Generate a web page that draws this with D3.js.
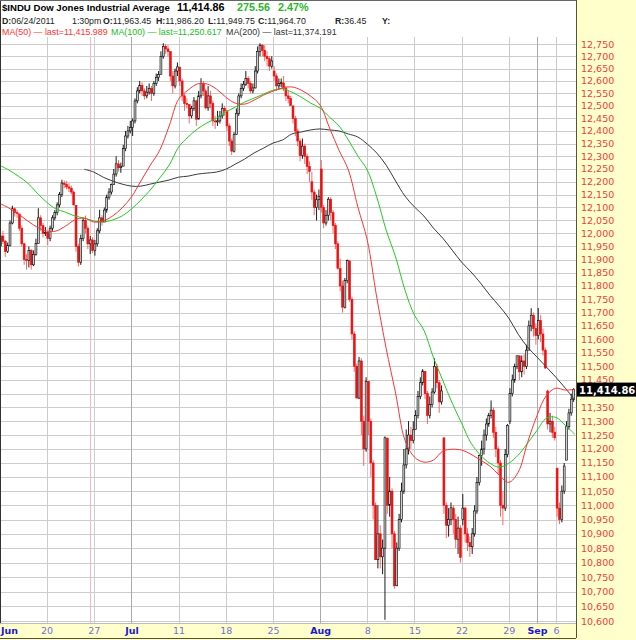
<!DOCTYPE html>
<html><head><meta charset="utf-8">
<script src="https://cdn.jsdelivr.net/npm/d3@7"></script>
<style>body{margin:0;background:#fff}svg{display:block}</style>
</head><body><svg id="c" width="636" height="640"></svg>
<script>
// ---------- DATA ----------
const tradingDays = ["06-13","06-14","06-15","06-16","06-17","06-20","06-21","06-22","06-23","06-24","06-27","06-28","06-29","06-30",
"07-01","07-05","07-06","07-07","07-08","07-11","07-12","07-13","07-14","07-15","07-18","07-19","07-20","07-21","07-22","07-25","07-26","07-27","07-28","07-29",
"08-01","08-02","08-03","08-04","08-05","08-08","08-09","08-10","08-11","08-12","08-15","08-16","08-17","08-18","08-19","08-22","08-23","08-24","08-25","08-26","08-29","08-30","08-31",
"09-01","09-02","09-06","09-07"];
const dayOpen = [11952,11953,12075,11897,11962,12004,12080,12190,12108,12050,11935,12044,12189,12261,12414,12583,12570,12627,12719,12656,
12505,12447,12492,12437,12480,12386,12587,12572,12724,12640,12592,12500,12303,12200,12250,12132,11866,11895,11384,11445,
10810,11239,10720,11143,11270,11482,11406,11240,10990,10950,10855,11177,11321,11150,11300,11539,11560,11614,11410,11130,11160];
const barClose = [
[11990,11970,11930,11953],[12040,12095,12080,12076],[12020,11960,11900,11897],[11935,11880,11920,11962],[12060,12030,12000,12004],
[11980,12020,12060,12080],[12110,12150,12195,12190],[12180,12175,12160,12110],[11950,11890,11980,12050],[12020,11960,11975,11935],
[11960,12010,12060,12044],[12090,12140,12160,12189],[12230,12270,12255,12261],[12330,12380,12400,12414],
[12440,12520,12560,12583],[12560,12540,12555,12570],[12550,12590,12615,12626],[12700,12740,12730,12719],[12620,12580,12640,12657],
[12600,12540,12510,12506],[12460,12490,12520,12447],[12540,12590,12560,12492],[12540,12510,12440,12437],[12440,12460,12490,12480],
[12420,12360,12320,12385],[12470,12540,12570,12587],[12610,12590,12560,12572],[12640,12720,12745,12724],[12700,12690,12660,12681],
[12620,12580,12590,12593],[12570,12540,12530,12501],[12450,12400,12360,12303],[12340,12300,12260,12240],[12160,12100,12130,12143],
[12100,12040,12070,12132],[12080,12030,11960,11867],[11800,11720,11820,11896],[11750,11620,11500,11384],[11520,11300,11200,11445],
[11300,11150,11000,10810],[10900,10820,10850,11240],[11000,11050,10900,10720],[10850,10950,11050,11143],[11200,11250,11230,11269],
[11320,11390,11440,11483],[11400,11320,11360,11406],[11500,11440,11370,11410],[11000,10930,10950,10991],[10950,10880,10920,10818],
[10990,10900,10870,10855],[10900,10980,11080,11177],[11200,11250,11290,11321],[11340,11260,11200,11150],[11000,10990,11180,11285],
[11400,11450,11500,11539],[11480,11520,11500,11560],[11650,11690,11640,11614],
[11670,11620,11560,11494],[11290,11300,11260,11240],[10990,10950,11050,11139],[11280,11330,11380,11415]];
const barHigh = [
[12000,12010,11975,11965],[12050,12107,12100,12090],[12076,12030,11965,11920],[11950,11940,11935,11980],[12097,12070,12040,12025],
[12010,12030,12070,12090],[12120,12160,12208,12205],[12203,12195,12185,12165],[12108,11960,11995,12060],[12069,12030,11990,11985],
[11975,12020,12091,12070],[12100,12150,12175,12193],[12250,12300,12285,12275],[12345,12400,12420,12440],
[12450,12530,12575,12600],[12595,12570,12580,12590],[12580,12600,12630,12640],[12720,12753,12750,12745],[12718,12640,12650,12675],
[12656,12610,12550,12530],[12505,12500,12535,12525],[12560,12611,12600,12570],[12580,12560,12520,12460],[12480,12480,12510,12500],
[12480,12430,12370,12395],[12490,12550,12590,12600],[12640,12620,12600,12590],[12660,12740,12753,12750],[12745,12720,12700,12700],
[12660,12630,12610,12610],[12620,12580,12560,12540],[12500,12460,12410,12370],[12370,12350,12310,12280],[12239,12170,12150,12170],
[12285,12110,12090,12140],[12140,12090,12040,11970],[11904,11820,11830,11900],[11895,11760,11630,11510],[11535,11530,11320,11460],
[11445,11310,11160,11010],[11000,10930,10880,11245],[11240,11100,11060,10910],[10870,10970,11080,11200],[11270,11300,11280,11300],
[11340,11410,11460,11490],[11482,11410,11390,11420],[11530,11510,11450,11430],[11240,11010,10990,11010],[11000,10970,10960,10930],
[11040,10995,10920,10890],[10920,11000,11100,11180],[11230,11270,11310,11330],[11375,11350,11280,11210],[11160,11050,11200,11290],
[11420,11470,11510,11540],[11540,11540,11545,11580],[11670,11716,11700,11660],
[11717,11690,11640,11570],[11415,11330,11320,11280],[11135,11010,11070,11150],[11300,11345,11400,11420]];
const barLow = [
[11945,11960,11910,11925],[11950,12035,12065,12060],[12010,11950,11880,11862],[11870,11862,11875,11915],[11962,12010,11985,11990],
[11955,11970,12010,12050],[12070,12100,12140,12175],[12170,12160,12150,12108],[11930,11874,11880,11970],[12000,11940,11921,11925],
[11915,11950,12000,12030],[12045,12080,12130,12150],[12188,12220,12240,12235],[12262,12320,12370,12390],
[12380,12430,12510,12550],[12540,12525,12530,12545],[12520,12540,12580,12600],[12627,12690,12710,12700],[12600,12550,12570,12620],
[12580,12520,12480,12490],[12430,12450,12480,12420],[12447,12530,12540,12485],[12480,12490,12420,12408],[12420,12430,12450,12460],
[12400,12340,12305,12315],[12386,12460,12530,12560],[12580,12570,12550,12550],[12570,12630,12700,12700],[12680,12660,12640,12650],
[12600,12560,12565,12575],[12560,12520,12510,12500],[12430,12380,12340,12280],[12290,12270,12230,12200],[12130,12070,12050,12090],
[12080,12020,12030,12050],[12050,12000,11940,11862],[11780,11700,11715,11810],[11740,11600,11480,11383],[11380,11250,11139,11190],
[11250,11100,10950,10810],[10780,10780,10760,10604],[10970,10960,10850,10710],[10720,10840,10940,11040],[11130,11180,11200,11220],
[11270,11310,11380,11430],[11380,11290,11310,11350],[11400,11420,11330,11360],[10970,10885,10890,10930],[10900,10850,10830,10800],
[10930,10870,10840,10820],[10830,10890,10970,11070],[11140,11180,11230,11280],[11310,11240,11170,11110],[10960,10930,10980,11170],
[11290,11390,11440,11490],[11450,11460,11470,11490],[11560,11630,11610,11580],
[11600,11590,11540,11490],[11270,11260,11240,11230],[10960,10934,10940,11040],[11160,11270,11320,11370]];
// moving averages sampled at each trading-day boundary (0 = open of Jun 13, 61 = close of Sep 7)
const ma50 = [12117,12098,12075,12048,12024,12009,12009,12028,12052,12059,12044,12048,12067,12098,12141,12203,12265,12324,12420,12527,
12563,12588,12588,12568,12535,12511,12507,12523,12543,12559,12572,12576,12563,12539,12503,12412,12324,12246,12102,11974,
11758,11567,11402,11231,11171,11153,11160,11192,11199,11196,11181,11160,11139,11106,11081,11117,11224,11321,11394,11420,11413,11416];
const ma100 = [12265,12246,12222,12195,12156,12121,12094,12082,12067,12059,12048,12044,12052,12067,12094,12129,12168,12215,12265,12336,
12376,12408,12432,12451,12475,12495,12515,12531,12547,12563,12568,12555,12535,12511,12491,12455,12420,12364,12301,12246,
12141,12013,11910,11784,11690,11634,11534,11449,11366,11293,11221,11178,11149,11135,11149,11178,11221,11267,11311,11314,11285,11253];
const ma200 = [null,null,null,null,null,null,null,null,null,12249,12238,12218,12203,12191,12183,12183,12191,12199,12207,12218,
12222,12230,12234,12238,12249,12269,12289,12313,12332,12352,12364,12388,12396,12404,12408,12404,12400,12388,12376,12348,
12313,12265,12203,12144,12102,12067,12021,11982,11936,11890,11853,11811,11765,11724,11679,11619,11571,11534,11497,11460,11420,11377];
const yTicks = [10600,10650,10700,10750,10800,10850,10900,10950,11000,11050,11100,11150,11200,11250,11300,11350,11400,11450,11500,11550,
11600,11650,11700,11750,11800,11850,11900,11950,12000,12050,12100,12150,12200,12250,12300,12350,12400,12450,12500,12550,12600,12650,12700,12750];
const xTickLabels = ["Jun","20","27","Jul","11","18","25","Aug","8","15","22","29","Sep","6"];
const xTickDay    = [0,5,10,14,19,24,29,34,39,44,49,54,57,59];
const xTickMonth  = [true,false,false,true,false,false,false,true,false,false,false,false,true,false];
const cursorDay = 9.62;   // 06/24/2011 1:30pm
const lastPrice = 11414.86;
const title = "$INDU Dow Jones Industrial Average";
const quoteFields = [["D:","06/24/2011",2],["","1:30pm",72],["O:","11,963.45",103],["H:","11,986.20",156],
                     ["L:","11,949.75",208],["C:","11,964.70",258],["R:","36.45",335],["Y:","",382]];

// ---------- CHART ----------
const W=636,H=640, plotR=576, plotT=37, plotB=623;
const FONT = "'DejaVu Sans', Verdana, sans-serif";
const HFONT = "'Liberation Sans', Arial, sans-serif";
const svg = d3.select("#c");
const x = d3.scaleLinear().domain([0, 61]).range([-0.6, 574.8]);
const y = d3.scaleLog().domain([10600, 12750]).range([621, 44]);

svg.append("rect").attr("width",W).attr("height",H).attr("fill","#ffffcc");
svg.append("rect").attr("width",plotR).attr("height",plotB).attr("fill","#ffffff");

const defs = svg.append("defs");
defs.append("clipPath").attr("id","plot").append("rect").attr("x",1).attr("y",plotT).attr("width",plotR-1).attr("height",plotB-plotT);

// horizontal grid
svg.append("g").selectAll("line").data(yTicks).join("line")
  .attr("x1",1).attr("x2",plotR).attr("y1",d=>Math.round(y(d))+0.5).attr("y2",d=>Math.round(y(d))+0.5)
  .attr("stroke","#cccccc").attr("stroke-width",1);
// vertical grid
svg.append("g").selectAll("line").data(xTickDay.slice(1)).join("line")
  .attr("x1",d=>Math.round(x(d))+0.5).attr("x2",d=>Math.round(x(d))+0.5)
  .attr("y1",plotT).attr("y2",plotB)
  .attr("stroke",(d,i)=>xTickMonth[i+1]?"#aaaaaa":"#cccccc").attr("stroke-width",1);
// cursor line
svg.append("line").attr("x1",Math.round(x(cursorDay))+0.5).attr("x2",Math.round(x(cursorDay))+0.5)
  .attr("y1",plotT).attr("y2",plotB).attr("stroke","#ffb8b8").attr("stroke-width",1);

// bars
const bars = [];
dayOpen.forEach((op, d) => {
  for (let k = 0; k < 4; k++) {
    const o = k === 0 ? op : barClose[d][k-1];
    const prev = k === 0 ? (d === 0 ? op : barClose[d-1][3]) : barClose[d][k-1];
    const c = barClose[d][k];
    bars.push({t: d + (k + 0.5) / 4, o, c, prev,
      h: Math.max(barHigh[d][k], o, c), l: Math.min(barLow[d][k], o, c)});
  }
});
const gC = svg.append("g").attr("clip-path","url(#plot)");
const col = b => b.c < b.prev ? "#ee1111" : "#000000";
gC.selectAll("line.w").data(bars).join("line").attr("class","w")
  .attr("x1",b=>x(b.t)).attr("x2",b=>x(b.t)).attr("y1",b=>y(b.h)).attr("y2",b=>y(b.l))
  .attr("stroke",b=>b.c<b.prev?"#ff5555":"#000").attr("stroke-width",0.9);
const bw = 1.9;
gC.selectAll("rect.b").data(bars).join("rect").attr("class","b")
  .attr("x",b=>x(b.t)-bw/2).attr("width",bw)
  .attr("y",b=>y(Math.max(b.o,b.c))).attr("height",b=>Math.max(1,Math.abs(y(b.o)-y(b.c))))
  .attr("fill",b=>b.c<b.o?col(b):"#d0d0d0")
  .attr("stroke",col).attr("stroke-width",0.6);

// moving averages
const line = d3.line().defined(v=>v!=null).x((v,i)=>x(i)).y(v=>y(v)).curve(d3.curveCatmullRom);
[[ma200,"#3a3a3a"],[ma100,"#22cc22"],[ma50,"#ff3333"]].forEach(([arr,c])=>{
  gC.append("path").attr("d",line(arr)).attr("fill","none").attr("stroke",c).attr("stroke-width",1);
});

// y labels (the one hidden behind the last-price box is left out)
const yl = y(lastPrice);
svg.append("g").selectAll("text").data(yTicks.filter(d=>Math.abs(y(d)-yl) > 9)).join("text")
  .attr("x",581).attr("y",d=>y(d)+3.5).text(d=>d3.format(",")(d))
  .attr("font-family",FONT).attr("font-size",9.5).attr("fill","#f03c3c");
// last price box
svg.append("rect").attr("x",577).attr("y",yl-7).attr("width",59).attr("height",14).attr("fill","#000");
svg.append("text").attr("x",579).attr("y",yl+4).text(d3.format(",.2f")(lastPrice))
  .attr("font-family",FONT).attr("font-size",10).attr("font-weight","bold").attr("fill","#fff");

// x labels
svg.append("g").selectAll("text").data(xTickLabels).join("text")
  .attr("x",(d,i)=> i===0 ? 1 : x(xTickDay[i]) + 0.5)
  .attr("text-anchor",(d,i)=> i===0 ? "start" : "middle")
  .attr("y",634).text(d=>d)
  .attr("font-family",FONT).attr("font-size",9.5)
  .attr("font-weight",(d,i)=>xTickMonth[i]?"bold":"normal")
  .attr("fill",(d,i)=>xTickMonth[i]?"#1a1acc":"#7070d8");

// borders
svg.append("line").attr("x1",0.5).attr("x2",0.5).attr("y1",0).attr("y2",plotB).attr("stroke","#333");
svg.append("line").attr("x1",0).attr("x2",plotR).attr("y1",0.5).attr("y2",0.5).attr("stroke","#666");
svg.append("line").attr("x1",plotR+0.5).attr("x2",plotR+0.5).attr("y1",0).attr("y2",638).attr("stroke","#555533");
svg.append("line").attr("x1",0).attr("x2",plotR).attr("y1",plotB+0.5).attr("y2",plotB+0.5).attr("stroke","#bbbbbb");
svg.append("line").attr("x1",0).attr("x2",plotR).attr("y1",638.5).attr("y2",638.5).attr("stroke","#555533");

// header
const hdr = svg.append("g").attr("font-family",HFONT);
function t(xp, yp, s, size, opts={}) {
  return hdr.append("text").attr("x",xp).attr("y",yp).text(s)
    .attr("font-size",size).attr("fill",opts.fill||"#222")
    .attr("font-weight",opts.bold?"bold":"normal");
}
t(2,11,title,9.6,{bold:true,fill:"#000"});
t(177,11,d3.format(",.2f")(lastPrice),10.8,{bold:true,fill:"#000"});
t(237,11,"275.56",10.8,{bold:true,fill:"#2ab52a"});
t(278,11,"2.47%",10.8,{bold:true,fill:"#2ab52a"});
quoteFields.forEach(([lab, val, xp]) => {
  const e = hdr.append("text").attr("x",xp).attr("y",23.5).attr("font-size",8.8).attr("fill","#222");
  if (lab) e.append("tspan").attr("font-weight","bold").text(lab);
  if (val) e.append("tspan").text(val);
});
t(2,34.5,"MA(50) \u2014 last=11,415.989",8.9,{fill:"#ff3333"});
t(111,34.5,"MA(100) \u2014 last=11,250.617",8.9,{fill:"#22bb22"});
t(226,34.5,"MA(200) \u2014 last=11,374.191",8.9,{fill:"#333"});
</script>
</body></html>
